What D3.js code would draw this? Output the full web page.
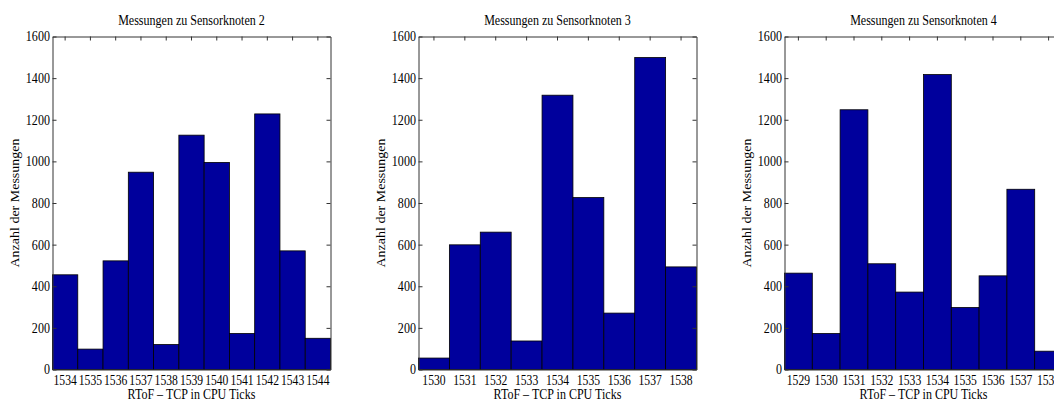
<!DOCTYPE html>
<html>
<head>
<meta charset="utf-8">
<script src="https://cdn.jsdelivr.net/npm/d3@7"></script>
<style>
  html, body { margin: 0; padding: 0; background: #fff; overflow: hidden; }
  svg { display: block; }
  text { font-family: "Liberation Serif", "Times New Roman", serif; fill: #000; }
</style>
</head>
<body>
<svg id="chart" width="1054" height="403"></svg>
<script>
// Histogram counts of RToF - TCP (CPU ticks) per sensor node
const titles = ["Messungen zu Sensorknoten 2", "Messungen zu Sensorknoten 3", "Messungen zu Sensorknoten 4"];

const ticksNode2 = [1534, 1535, 1536, 1537, 1538, 1539, 1540, 1541, 1542, 1543, 1544];
const countsNode2 = [455, 98, 522, 948, 120, 1126, 995, 173, 1228, 570, 150];

const ticksNode3 = [1530, 1531, 1532, 1533, 1534, 1535, 1536, 1537, 1538];
const countsNode3 = [55, 599, 660, 137, 1318, 826, 271, 1499, 493];

const ticksNode4 = [1529, 1530, 1531, 1532, 1533, 1534, 1535, 1536, 1537, 1538];
const countsNode4 = [463, 173, 1248, 508, 372, 1417, 298, 450, 866, 88];

const yTicks = [0, 200, 400, 600, 800, 1000, 1200, 1400, 1600];
const xLabel = "RToF \u2013 TCP in CPU Ticks";
const yLabel = "Anzahl der Messungen";

const panels = [
  { title: titles[0], bins: ticksNode2, counts: countsNode2, left: 52.5 },
  { title: titles[1], bins: ticksNode3, counts: countsNode3, left: 418.5 },
  { title: titles[2], bins: ticksNode4, counts: countsNode4, left: 784.5 }
];

const plotW = 278, plotTop = 36.5, plotBottom = 369.5;
const barColor = "#00009c";
const fontSize = "14px";
const squeeze = 0.86;      // narrow serif look of the labels
const tickSqueeze = 0.83;  // bin labels sit edge to edge
const svg = d3.select("#chart");

panels.forEach(p => {
  const g = svg.append("g").attr("transform", `translate(${p.left},0)`);

  const x = d3.scaleBand().domain(p.bins).range([0, plotW]).padding(0);
  const y = d3.scaleLinear().domain([0, 1600]).range([plotBottom, plotTop]);

  // bars
  g.selectAll("rect.bar")
    .data(p.bins.map((b, i) => ({ bin: b, count: p.counts[i] })))
    .join("rect")
    .attr("class", "bar")
    .attr("x", d => x(d.bin))
    .attr("y", d => y(d.count))
    .attr("width", x.bandwidth())
    .attr("height", d => y(0) - y(d.count))
    .attr("fill", barColor)
    .attr("stroke", "#000")
    .attr("stroke-width", 0.8);

  // axes box with inward ticks
  const tickLen = 4;
  const styleAxis = (sel, sx) => {
    sel.attr("font-family", null).attr("font-size", null);
    sel.selectAll("path.domain").attr("stroke", "#333");
    sel.selectAll(".tick line").attr("stroke", "#333");
    sel.selectAll(".tick text")
      .style("font-size", fontSize)
      .attr("transform", `scale(${sx || squeeze},1)`);
  };

  g.append("g")
    .call(d3.axisLeft(y).tickValues(yTicks).tickFormat(d3.format("d"))
      .tickSize(-tickLen).tickPadding(3).tickSizeOuter(0))
    .call(styleAxis);

  g.append("g")
    .attr("transform", `translate(${plotW},0)`)
    .call(d3.axisRight(y).tickValues(yTicks).tickSize(-tickLen).tickFormat("").tickSizeOuter(0))
    .call(styleAxis);

  g.append("g")
    .attr("transform", `translate(0,${plotTop})`)
    .call(d3.axisTop(x).tickSize(-tickLen).tickFormat("").tickSizeOuter(0))
    .call(styleAxis);

  g.append("g")
    .attr("transform", `translate(0,${plotBottom})`)
    .call(d3.axisBottom(x).tickFormat(d3.format("d")).tickSize(0).tickPadding(6).tickSizeOuter(0))
    .call(styleAxis, tickSqueeze);

  // title and axis labels
  g.append("text")
    .attr("transform", `translate(${plotW / 2},25) scale(${squeeze},1)`)
    .attr("text-anchor", "middle")
    .style("font-size", fontSize)
    .text(p.title);

  g.append("text")
    .attr("transform", `translate(${plotW / 2},399) scale(${squeeze},1)`)
    .attr("text-anchor", "middle")
    .style("font-size", fontSize)
    .text(xLabel);

  g.append("text")
    .attr("transform", `translate(-33.5,${(plotTop + plotBottom) / 2}) scale(${squeeze},1) rotate(-90)`)
    .attr("text-anchor", "middle")
    .style("font-size", fontSize)
    .text(yLabel);
});
</script>
</body>
</html>
